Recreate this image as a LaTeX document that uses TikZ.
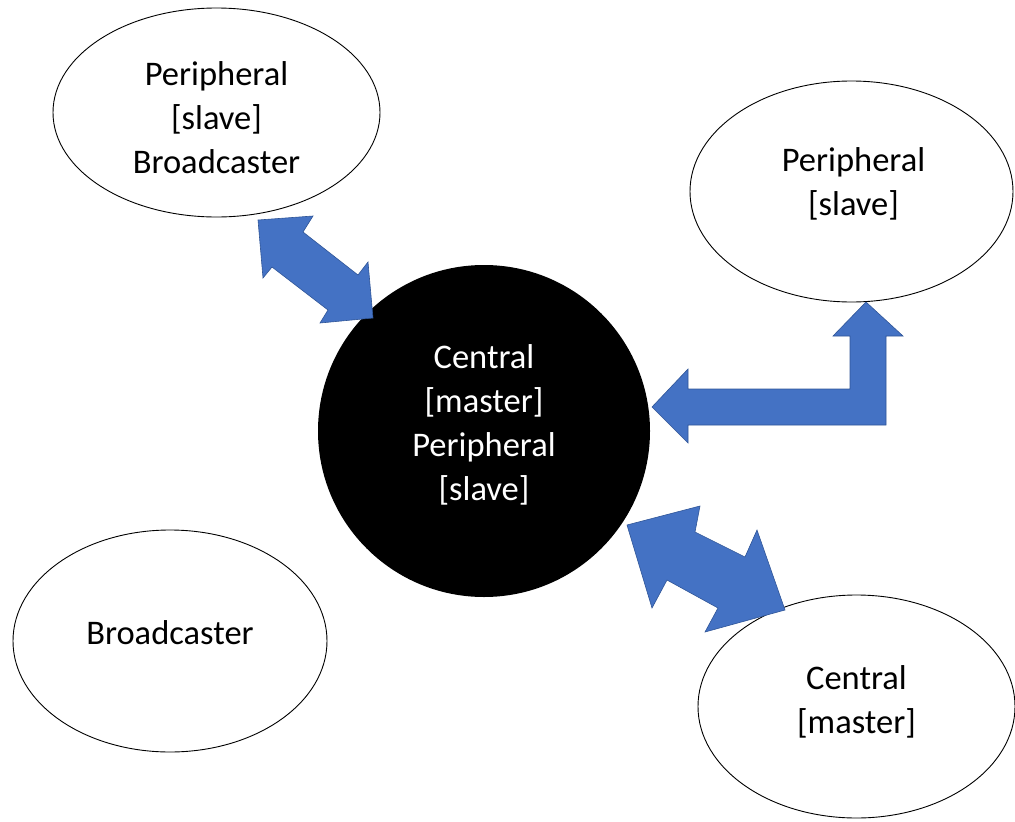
\documentclass[tikz,border=0pt]{standalone}
\usepackage{fontspec}
\setmainfont{Carlito}
\usetikzlibrary{shapes.geometric}
\definecolor{arrowblue}{HTML}{4472C4}
\definecolor{arrowedge}{HTML}{2F5597}
\tikzset{
  device/.style={draw=black, line width=0.9pt, ellipse, inner sep=0pt},
  hub/.style={circle, fill=black, inner sep=0pt},
  caption/.style={inner sep=0pt, align=center, font=\fontsize{34.5}{44}\selectfont},
  blockarrow/.style={fill=arrowblue, draw=arrowedge, line width=0.6pt, line join=miter}
}
\begin{document}
\begin{tikzpicture}[x=1pt,y=-1pt]
\useasboundingbox (0,0) rectangle (1015,822);
\node[device, minimum width=327pt, minimum height=209pt] (pb) at (216.5,112.5) {};
\node[device, minimum width=323pt, minimum height=221pt] (ps) at (851.5,191.5) {};
\node[device, minimum width=314pt, minimum height=222pt] (bc) at (170,641) {};
\node[device, minimum width=317pt, minimum height=223pt] (cm) at (856.5,706.5) {};
\node[hub, minimum size=332pt] (hub) at (484,431) {};
\node[caption] (pbt) at ([yshift=-5pt]pb.center) {Peripheral\\{}[slave]\\Broadcaster};
\node[caption] (pst) at ([xshift=2pt,yshift=7.5pt]ps.center) {Peripheral\\{}[slave]};
\node[caption] (bct) at ([yshift=8pt]bc.center) {Broadcaster};
\node[caption] (cmt) at ([yshift=4.5pt]cm.center) {Central\\{}[master]};
\node[caption, text=white] (hubt) at ([yshift=6pt]hub.center) {Central\\{}[master]\\Peripheral\\{}[slave]};
% double arrow: hub <-> peripheral/broadcaster
\draw[blockarrow] (258,220) -- (313,216) -- (303,232) -- (358,275) -- (368,262) -- (373,318)
  -- (320,323) -- (328,310) -- (272,267) -- (263,278) -- cycle;
% bent arrow: peripheral -> hub
\draw[blockarrow] (652,407) -- (688,369) -- (688,389) -- (850,389) -- (850,336) -- (833,336)
  -- (866,302) -- (903,336) -- (886,336) -- (886,425) -- (688,425) -- (688,443) -- cycle;
% double arrow: hub <-> central
\draw[blockarrow] (627,525) -- (700,506) -- (695,532) -- (745,557) -- (757,530) -- (785,610)
  -- (705,632) -- (718,608) -- (667,580) -- (652,608) -- cycle;
\end{tikzpicture}
\end{document}
